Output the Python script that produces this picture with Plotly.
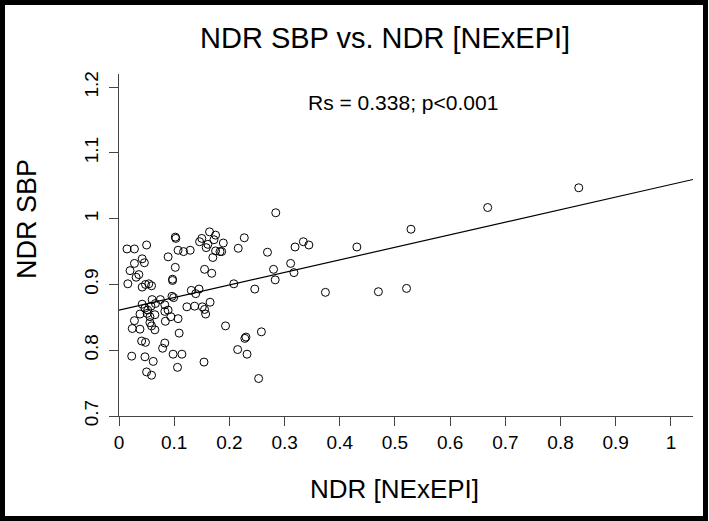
import plotly.graph_objects as go

# ---- data ----
ndr_nexepi = [
    0.529, 0.668, 0.833, 0.521, 0.189, 0.186, 0.227, 0.216, 0.284, 0.269,
    0.319, 0.334, 0.344, 0.431, 0.311, 0.280, 0.317, 0.283, 0.208, 0.246,
    0.374, 0.470, 0.193, 0.228, 0.230, 0.258, 0.215, 0.232, 0.253,
    0.0145, 0.028, 0.050, 0.102, 0.103, 0.089, 0.107, 0.117, 0.129, 0.146,
    0.150, 0.164, 0.175, 0.172, 0.161, 0.158, 0.175, 0.183, 0.170, 0.042,
    0.028, 0.046, 0.020, 0.036, 0.031, 0.016, 0.042, 0.048, 0.059, 0.054,
    0.102, 0.097, 0.097, 0.155, 0.168, 0.131, 0.139, 0.145, 0.096, 0.099,
    0.060, 0.075, 0.042, 0.047, 0.058, 0.083, 0.089, 0.083, 0.038, 0.051,
    0.056, 0.065, 0.094, 0.107, 0.123, 0.137, 0.151, 0.157, 0.165, 0.028,
    0.056, 0.024, 0.038, 0.059, 0.065, 0.084, 0.109, 0.041, 0.048, 0.083,
    0.079, 0.098, 0.114, 0.023, 0.047, 0.062, 0.106, 0.154, 0.050, 0.059,
    0.155, 0.066, 0.052,
]
ndr_sbp = [
    0.984, 1.017, 1.047, 0.894, 0.963, 0.950, 0.971, 0.955, 1.009, 0.949,
    0.957, 0.965, 0.960, 0.957, 0.932, 0.923, 0.918, 0.907, 0.901, 0.893,
    0.888, 0.889, 0.837, 0.818, 0.820, 0.828, 0.801, 0.794, 0.757,
    0.954, 0.954, 0.960, 0.972, 0.970, 0.942, 0.952, 0.950, 0.952, 0.965,
    0.970, 0.980, 0.975, 0.968, 0.961, 0.956, 0.951, 0.950, 0.941, 0.939,
    0.932, 0.933, 0.921, 0.915, 0.911, 0.901, 0.896, 0.900, 0.898, 0.901,
    0.926, 0.908, 0.906, 0.923, 0.917, 0.891, 0.886, 0.893, 0.882, 0.880,
    0.877, 0.877, 0.870, 0.864, 0.867, 0.869, 0.861, 0.859, 0.855, 0.856,
    0.851, 0.854, 0.851, 0.848, 0.866, 0.867, 0.866, 0.855, 0.873, 0.845,
    0.842, 0.833, 0.832, 0.837, 0.831, 0.844, 0.826, 0.814, 0.812, 0.811,
    0.803, 0.794, 0.794, 0.791, 0.790, 0.783, 0.774, 0.782, 0.767, 0.762,
    0.862, 0.871, 0.861,
]

x_ticks = [0, 0.1, 0.2, 0.3, 0.4, 0.5, 0.6, 0.7, 0.8, 0.9, 1.0]
x_tick_labels = ["0", "0.1", "0.2", "0.3", "0.4", "0.5", "0.6", "0.7", "0.8", "0.9", "1"]
y_ticks = [0.7, 0.8, 0.9, 1.0, 1.1, 1.2]
y_tick_labels = ["0.7", "0.8", "0.9", "1", "1.1", "1.2"]

fit_intercept = 0.861
fit_slope = 0.191

title_text = "NDR SBP vs. NDR [NExEPI]"
x_title = "NDR [NExEPI]"
y_title = "NDR SBP"
stat_text = "Rs = 0.338; p<0.001"

x_range = [0, 1.04]
y_range = [0.7, 1.22]

# ---- figure ----
W, H = 709, 521
ML, MR, MT, MB = 119, 16, 74, 105
PW, PH = W - ML - MR, H - MT - MB
FONT = "Liberation Sans, Arial, sans-serif"


def px_x(px):
    return (px - ML) / PW


def px_y(py):
    return (H - MB - py) / PH


fig = go.Figure()

fig.add_trace(go.Scatter(
    x=ndr_nexepi, y=ndr_sbp, mode="markers",
    marker=dict(symbol="circle-open", size=8, color="black", line=dict(width=1, color="black")),
    showlegend=False, hoverinfo="x+y",
))

fig.add_trace(go.Scatter(
    x=x_range, y=[fit_intercept + fit_slope * v for v in x_range],
    mode="lines", line=dict(color="black", width=1.2),
    showlegend=False, hoverinfo="skip",
))

axis_common = dict(
    showgrid=False, zeroline=False, showline=True, linecolor="#444", linewidth=1,
    ticks="outside", ticklen=9, tickcolor="#444", tickwidth=1,
    automargin=False, mirror=False,
)

fig.update_layout(
    width=W, height=H,
    margin=dict(l=ML, r=MR, t=MT, b=MB, pad=0),
    paper_bgcolor="white", plot_bgcolor="white",
    font=dict(family=FONT, color="black"),
    xaxis=dict(range=x_range, tickvals=x_ticks, ticktext=x_tick_labels,
               tickfont=dict(size=19, family=FONT, color="black"), **axis_common),
    yaxis=dict(range=y_range, tickvals=y_ticks, ticktext=y_tick_labels, tickangle=-90,
               ticklabelstandoff=3,
               tickfont=dict(size=19, family=FONT, color="black"), **axis_common),
    annotations=[
        dict(text=title_text, xref="paper", yref="paper", x=px_x(385), y=px_y(38),
             xanchor="center", yanchor="middle", showarrow=False,
             font=dict(size=29, family=FONT, color="black")),
        dict(text=stat_text, xref="paper", yref="paper", x=px_x(403), y=px_y(102),
             xanchor="center", yanchor="middle", showarrow=False,
             font=dict(size=21, family=FONT, color="black")),
        dict(text=x_title, xref="paper", yref="paper", x=px_x(394), y=px_y(489),
             xanchor="center", yanchor="middle", showarrow=False,
             font=dict(size=26, family=FONT, color="black")),
        dict(text=y_title, xref="paper", yref="paper", x=px_x(27), y=px_y(219),
             xanchor="center", yanchor="middle", showarrow=False, textangle=-90,
             font=dict(size=27, family=FONT, color="black")),
    ],
    shapes=[
        dict(type="rect", xref="paper", yref="paper",
             x0=px_x(2.5), x1=px_x(705.5), y0=px_y(518.5), y1=px_y(2.5),
             line=dict(color="black", width=5), fillcolor="rgba(0,0,0,0)", layer="above"),
    ],
)

fig.write_html(
    "out.html",
    config={"displayModeBar": False},
    post_script="document.body.style.margin='0';document.body.style.padding='0';"
                "document.body.style.overflow='hidden';",
)
